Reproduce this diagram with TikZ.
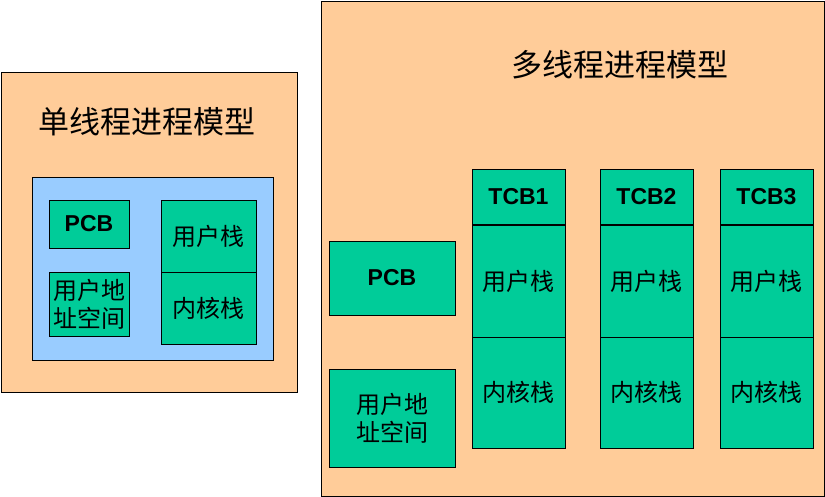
\documentclass[tikz,border=0pt]{standalone}
\usepackage{fontspec}
\setmainfont{Liberation Sans}
\newfontfamily\cjk{Noto Sans CJK SC}
\definecolor{peach}{HTML}{FFCC99}
\definecolor{sky}{HTML}{99CCFF}
\definecolor{cellgreen}{HTML}{00CC99}
\tikzset{
  wh/.style 2 args={minimum width=#1, minimum height=#2},
  panel/.style={draw=black, line width=0.8pt, fill=peach, anchor=north west, inner sep=0pt, outer sep=0pt},
  procbox/.style={draw=black, line width=0.8pt, fill=sky, anchor=north west, inner sep=0pt, outer sep=0pt},
  cell/.style={draw=black, line width=0.8pt, fill=cellgreen, anchor=north west, inner sep=0pt, outer sep=0pt, align=center},
  en/.style={font=\fontsize{23}{27}\selectfont\bfseries},
  zh/.style={font=\fontsize{24}{28}\selectfont\cjk},
  ttl/.style={font=\fontsize{31}{35}\selectfont\cjk},
  sep/.style={line width=2pt}
}
\begin{document}
\begin{tikzpicture}[x=1pt,y=-1pt]
\useasboundingbox (0,0) rectangle (825,497);
% single-thread model
\node[panel, wh={296pt}{320pt}] (lpanel) at (1,72) {};
\node[ttl] (ltitle) at (147,122) {单线程进程模型};
\node[procbox, wh={241pt}{183pt}] (lproc) at (32,177) {};
\node[cell, en, wh={80pt}{48pt}] (lpcb) at (49,200) {PCB};
\node[cell, zh, wh={80pt}{64pt}] (laddr) at (49,272) {用户地\\址空间};
\node[cell, zh, wh={95pt}{72pt}] (lustack) at (161,200) {用户栈};
\node[cell, zh, wh={95pt}{72pt}] (lkstack) at (161,272) {内核栈};
% multi-thread model
\node[panel, wh={503pt}{495pt}] (rpanel) at (321,1) {};
\node[ttl] (rtitle) at (620,65) {多线程进程模型};
\node[cell, en, wh={126pt}{74pt}] (rpcb) at (329,241) {PCB};
\node[cell, zh, wh={126pt}{98pt}] (raddr) at (329,369) {用户地\\址空间};
\foreach \i/\x in {1/472,2/600,3/720}{
  \node[cell, en, wh={93pt}{56pt}] (tcb\i) at (\x,169) {TCB\i};
  \node[cell, zh, wh={93pt}{112pt}] (us\i) at (\x,225) {用户栈};
  \node[cell, zh, wh={93pt}{111pt}] (ks\i) at (\x,337) {内核栈};
  \draw[sep] (tcb\i.south west) -- (tcb\i.south east);
}
\end{tikzpicture}
\end{document}
